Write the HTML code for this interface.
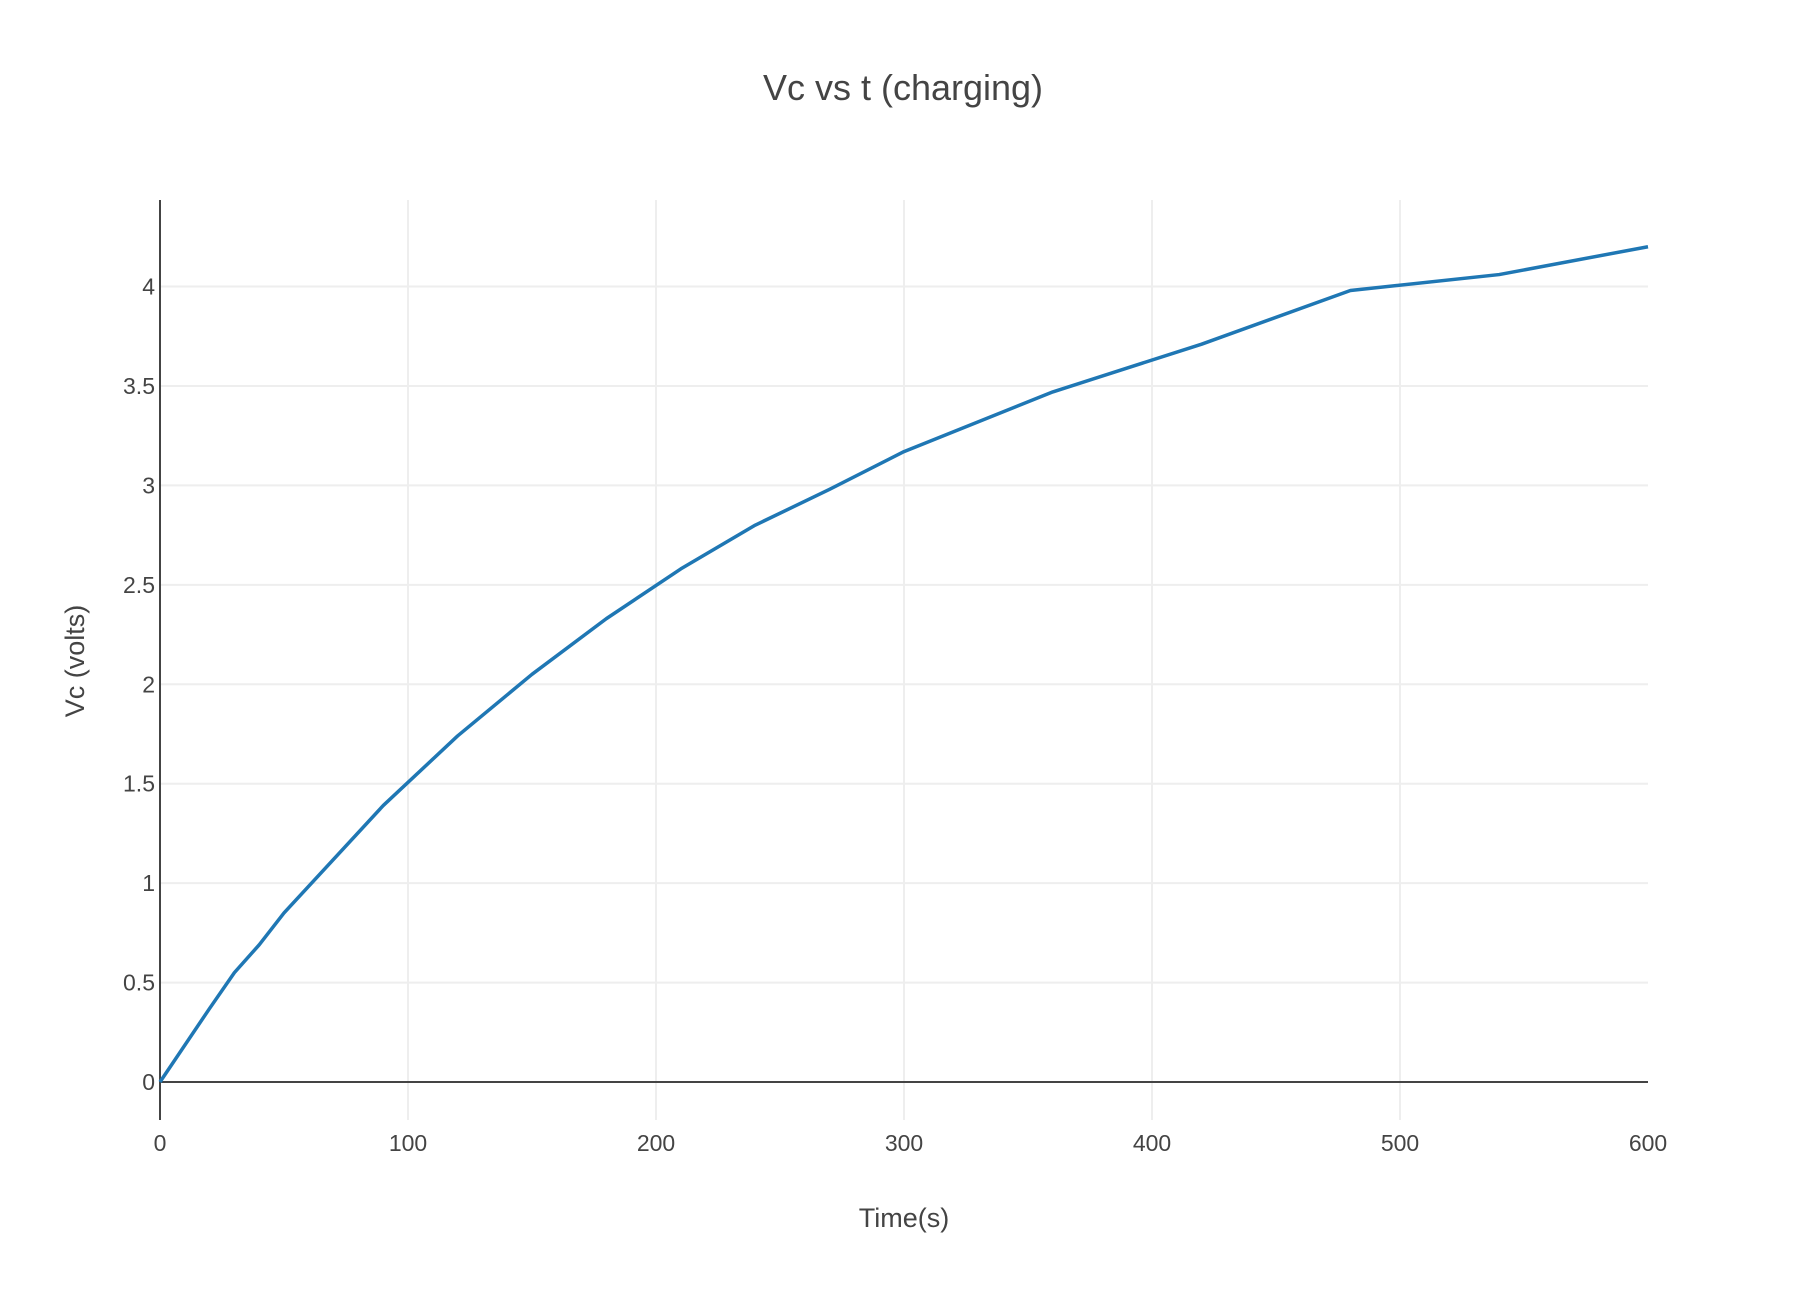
<!DOCTYPE html>
<html><head><meta charset="utf-8"><style>
html,body{margin:0;padding:0;background:#fff;}
svg text{font-family:"Liberation Sans",sans-serif;fill:#444;}
</style></head><body>
<svg id="chart" width="1810" height="1284" xmlns="http://www.w3.org/2000/svg">
<text x="903" y="100" text-anchor="middle" font-size="36">Vc vs t (charging)</text>
<g id="grid"></g><g id="axes"></g><g id="series"></g>
<text x="904" y="1227" text-anchor="middle" font-size="27">Time(s)</text>
<text transform="translate(84,661) rotate(-90)" text-anchor="middle" font-size="27">Vc (volts)</text>
</svg>
<script>
const times=[0,20,30,40,50,90,120,150,180,210,240,270,300,360,420,480,540,600];
const volts=[0,0.37,0.55,0.69,0.85,1.39,1.74,2.05,2.33,2.58,2.80,2.98,3.17,3.47,3.71,3.98,4.06,4.20];
const xTicks=[0,100,200,300,400,500,600];
const yTicks=[0,0.5,1,1.5,2,2.5,3,3.5,4];
const yTickLabels=["0","0.5","1","1.5","2","2.5","3","3.5","4"];
const NS="http://www.w3.org/2000/svg";
const X0=160,X1=1648,Y0=1082,Y4=286.5,TOP=200,BOT=1120;
const xs=v=>X0+(v-0)/(600-0)*(X1-X0);
const ys=v=>Y0+(v/4)*(Y4-Y0);
function mk(tag,attrs,parent){const e=document.createElementNS(NS,tag);for(const k in attrs)e.setAttribute(k,attrs[k]);parent.appendChild(e);return e;}
const grid=document.getElementById('grid'),axes=document.getElementById('axes'),ser=document.getElementById('series');
xTicks.forEach(t=>{
  if(t>0&&t<600){const l=mk('line',{x1:xs(t),x2:xs(t),y1:TOP,y2:BOT,stroke:'#eee','stroke-width':2},grid);
  
  }
  const tx=mk('text',{x:xs(t),y:1151,'text-anchor':'middle','font-size':23},axes);tx.textContent=t;
  
  
});
yTicks.forEach((v,i)=>{
  if(v>0){const l=mk('line',{x1:X0,x2:X1,y1:ys(v),y2:ys(v),stroke:'#eee','stroke-width':2},grid);
  
  }
  const tx=mk('text',{x:155,y:ys(v)+8,'text-anchor':'end','font-size':23},axes);tx.textContent=yTickLabels[i];
  
  
});
const zl=mk('line',{x1:X0,x2:X1,y1:ys(0),y2:ys(0),stroke:'#444','stroke-width':2},axes);


const ya=mk('line',{x1:X0,x2:X0,y1:TOP,y2:BOT,stroke:'#444','stroke-width':2},axes);


const pts=times.map((t,i)=>xs(t)+','+ys(volts[i])).join(' ');
const pl=mk('polyline',{points:pts,fill:'none',stroke:'#1f77b4','stroke-width':3.5,'stroke-linejoin':'round'},ser);


</script>
</body></html>
